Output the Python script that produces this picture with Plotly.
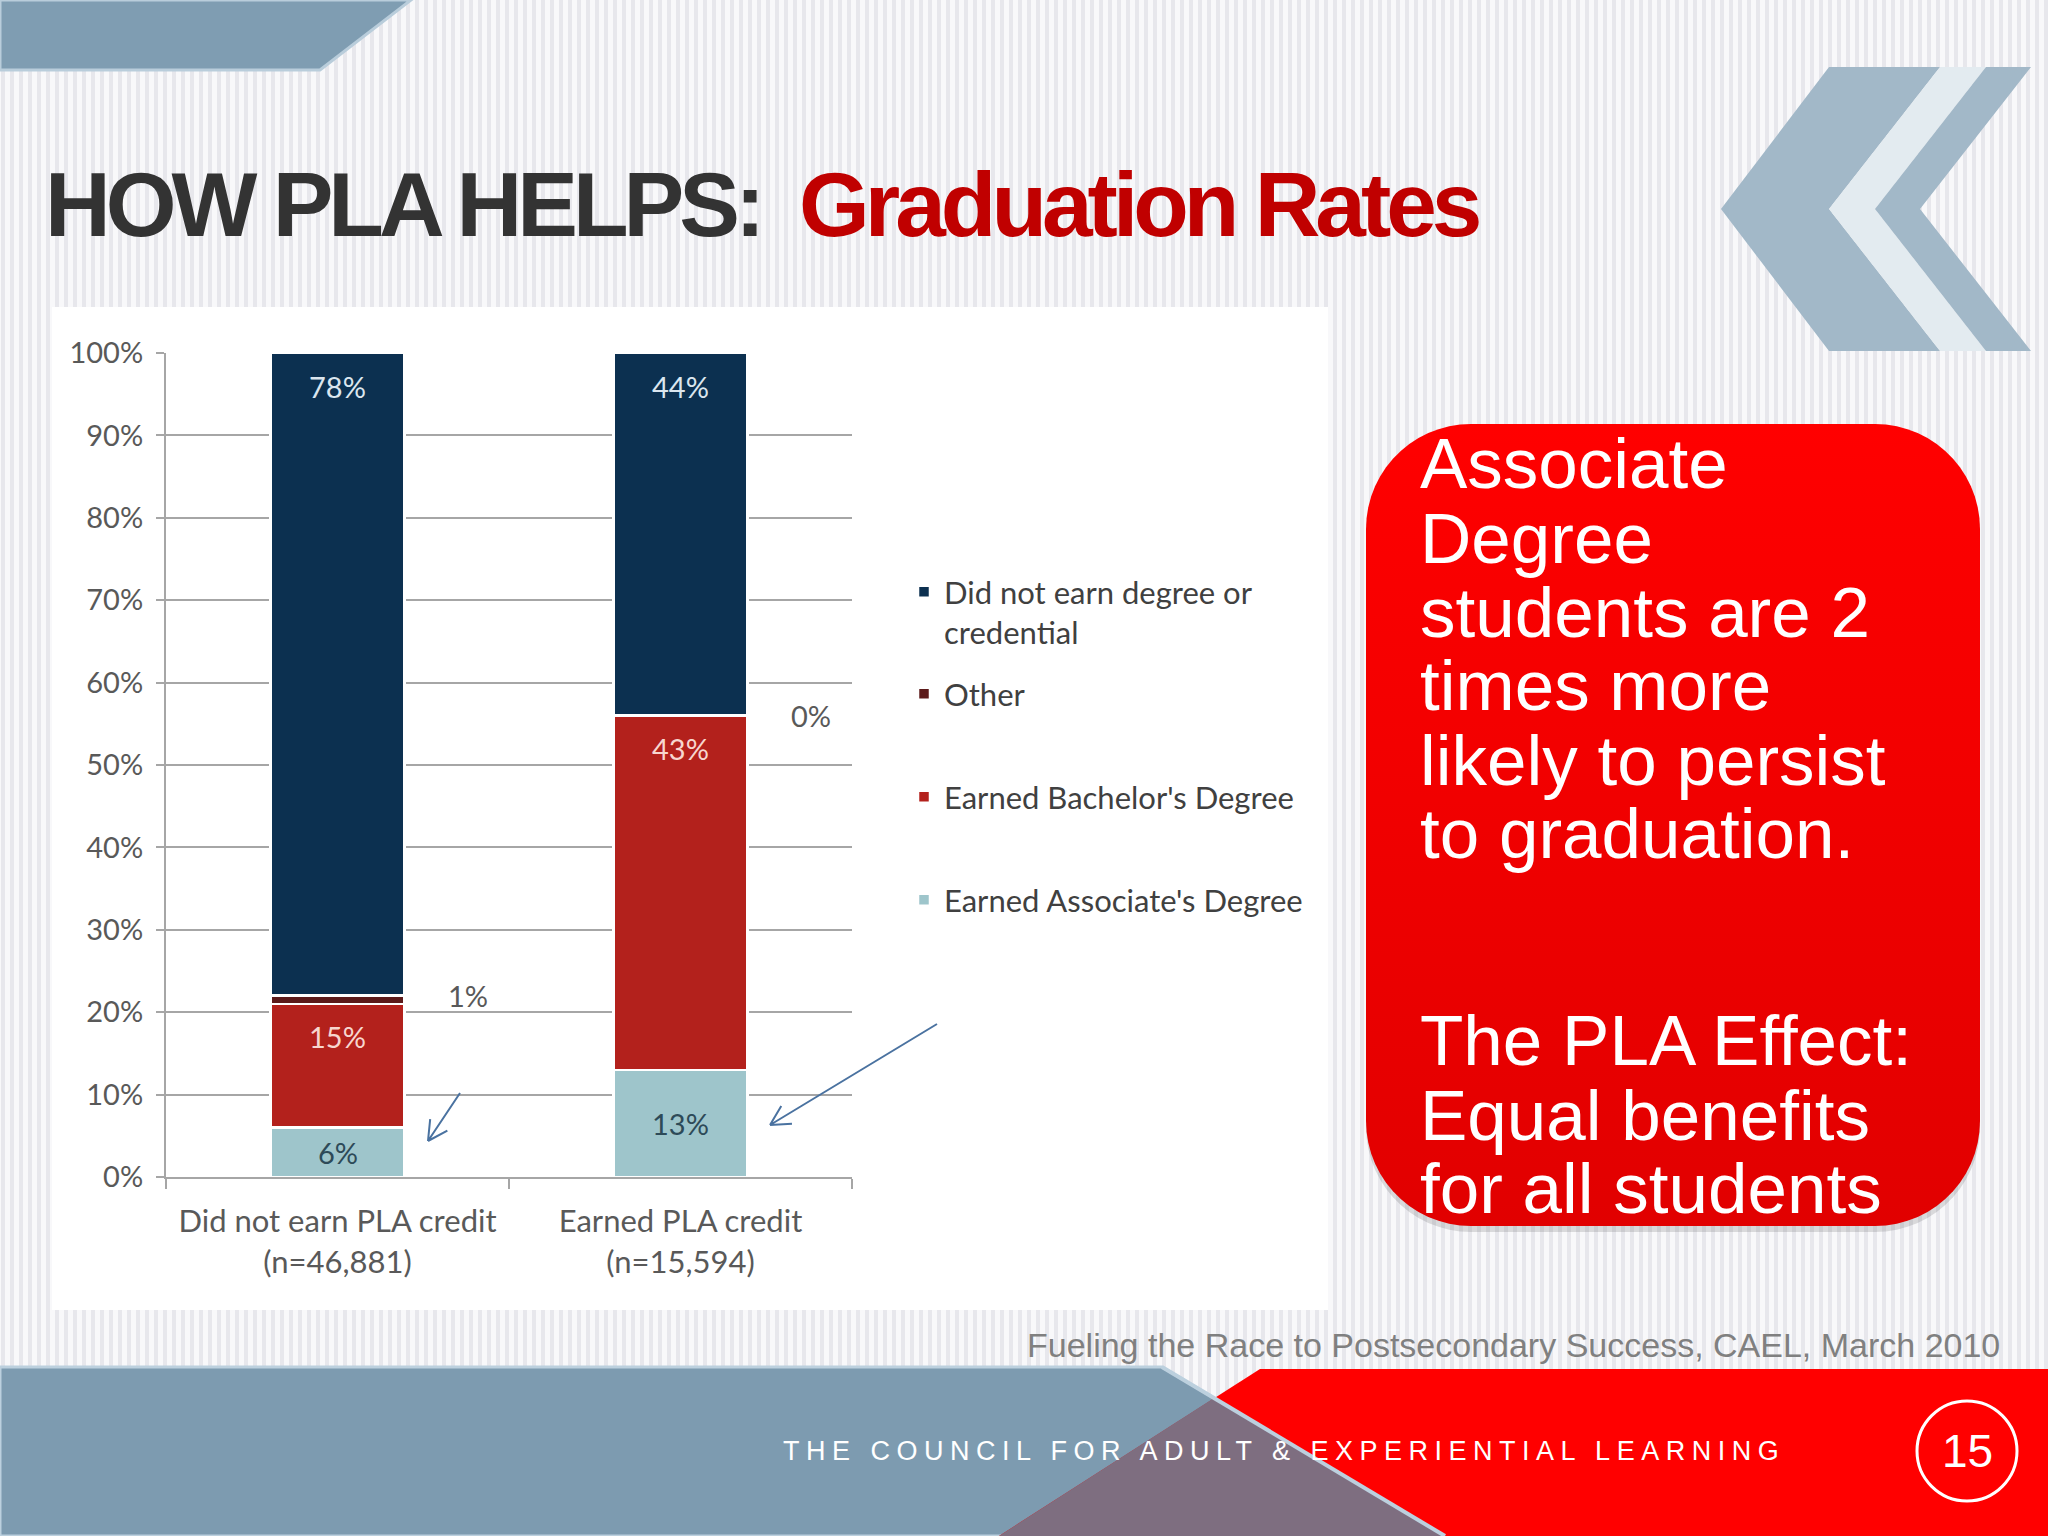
import numpy as np
import plotly.graph_objects as go

W, H = 2048, 1536

# ---------------- data ----------------
categories = ["Did not earn PLA credit<br>(n=46,881)", "Earned PLA credit<br>(n=15,594)"]
associate = [6, 13]
bachelor = [15, 43]
other = [1, 0]
not_earned = [78, 44]
series_names = ["Earned Associate's Degree", "Earned Bachelor's Degree", "Other",
                "Did not earn degree or<br>credential"]
y_tick_values = [0, 10, 20, 30, 40, 50, 60, 70, 80, 90, 100]
y_tick_labels = [f"{v}%" for v in y_tick_values]

title_left = "HOW PLA HELPS:"
title_right = "Graduation Rates"
callout_lines = ["Associate", "Degree", "students are 2", "times more", "likely to persist",
                 "to graduation.", "The PLA Effect:", "Equal benefits", "for all students"]
source_text = "Fueling the Race to Postsecondary Success, CAEL, March 2010"
footer_text = "THE COUNCIL FOR ADULT &amp; EXPERIENTIAL LEARNING"
page_number = "15"

# ---------------- style / layout ----------------
CHART_FONT = "Lato, 'Open Sans', sans-serif"
ARIAL = "'Liberation Sans', Arial, sans-serif"
series_colors = ["#9ec5cb", "#b3211c", "#5c1a1a", "#0c3050"]
label_colors = ["#2d4a58", "#f7d6cf", "#595959", "#dbe6ef"]
legend_ids = ["legend4", "legend3", "legend2", "legend"]
legend_tops = {"legend": 565, "legend2": 667, "legend3": 770, "legend4": 873}
callout_baselines = [487, 562, 636, 709, 784, 857, 1064, 1139, 1212]


def px(x):
    return x / W


def py(y):
    return 1 - y / H


def poly_path(pts):
    return "M " + " L ".join(f"{px(x):.5f},{py(y):.5f}" for x, y in pts) + " Z"


def arrow_path(tail, head, wing=22, ang=28):
    tx, ty = tail
    hx, hy = head
    d = np.array([hx - tx, hy - ty], float)
    d /= np.linalg.norm(d)
    parts = [f"M {px(tx):.5f},{py(ty):.5f} L {px(hx):.5f},{py(hy):.5f}"]
    for s in (1, -1):
        a = np.radians(ang * s)
        rx = d[0] * np.cos(a) - d[1] * np.sin(a)
        ry = d[0] * np.sin(a) + d[1] * np.cos(a)
        wx, wy = hx - wing * rx, hy - wing * ry
        parts.append(f"M {px(hx):.5f},{py(hy):.5f} L {px(wx):.5f},{py(wy):.5f}")
    return " ".join(parts)


def rounded_rect(x0, y0, x1, y1, r, n=16):
    xs, ys = [], []
    corners = [(x1 - r, y0 + r, -90, 0), (x1 - r, y1 - r, 0, 90),
               (x0 + r, y1 - r, 90, 180), (x0 + r, y0 + r, 180, 270)]
    for cx, cy, a0, a1 in corners:
        for t in np.linspace(np.radians(a0), np.radians(a1), n):
            xs.append(cx + r * np.cos(t))
            ys.append(cy + r * np.sin(t))
    xs.append(xs[0])
    ys.append(ys[0])
    return xs, ys


fig = go.Figure()

series_values = [associate, bachelor, other, not_earned]
for i, (name, vals) in enumerate(zip(series_names, series_values)):
    fig.add_trace(go.Bar(
        x=categories, y=vals, name=name, legend=legend_ids[i],
        width=0.39,
        marker=dict(color=series_colors[i], line=dict(color="white", width=2.5)),
        textposition="none",
        hoverinfo="skip",
    ))

# data labels
annotations = []
label_font = lambda c: dict(family=CHART_FONT, size=29, color=c)
cum = [0, 0]
for i, vals in enumerate(series_values):
    for j, v in enumerate(vals):
        bottom = cum[j]
        top = bottom + v
        cum[j] = top
        if i == 0:      # associate: centred in segment
            annotations.append(dict(x=j, y=(bottom + top) / 2, xref="x", yref="y",
                                    text=f"{v}%", showarrow=False, yanchor="middle",
                                    font=label_font(label_colors[i])))
        elif i == 2:    # other: outside, right of the bar
            annotations.append(dict(x=j + 0.38, y=top, xref="x", yref="y",
                                    text=f"{v}%", showarrow=False, yanchor="middle",
                                    font=label_font(label_colors[i])))
        else:           # near the top of the segment
            annotations.append(dict(x=j, y=top, xref="x", yref="y", yshift=-33,
                                    text=f"{v}%", showarrow=False, yanchor="middle",
                                    font=label_font(label_colors[i])))

# Callout box (gradient red) on a full-figure pixel axis
bx, by = rounded_rect(1366, 430, 1980, 1232, 105)
fig.add_trace(go.Scatter(x=bx, y=by, xaxis="x2", yaxis="y2", mode="lines",
                         line=dict(width=0), fill="toself",
                         fillcolor="rgba(0,0,0,0.12)", showlegend=False, hoverinfo="skip"))
bx, by = rounded_rect(1366, 424, 1980, 1226, 105)
fig.add_trace(go.Scatter(x=bx, y=by, xaxis="x2", yaxis="y2", mode="lines",
                         line=dict(width=0), fill="toself",
                         fillgradient=dict(type="vertical", start=424, stop=1226,
                                           colorscale=[[0, "#ff0000"], [1, "#e10000"]]),
                         showlegend=False, hoverinfo="skip"))

for line, base in zip(callout_lines, callout_baselines):
    annotations.append(dict(x=px(1418), y=py(base - 24), xref="paper", yref="paper",
                            text=line, showarrow=False, xanchor="left", yanchor="middle",
                            font=dict(family=ARIAL, size=71, color="white")))

# Titles
annotations.append(dict(x=px(43), y=py(205), xref="paper", yref="paper",
                        text=f'<span style="letter-spacing:-5px"><b>{title_left}</b></span>',
                        showarrow=False, xanchor="left", yanchor="middle",
                        font=dict(family=ARIAL, size=91, color="#333333")))
annotations.append(dict(x=px(797), y=py(205), xref="paper", yref="paper",
                        text=f'<span style="letter-spacing:-5px"><b>{title_right}</b></span>',
                        showarrow=False, xanchor="left", yanchor="middle",
                        font=dict(family=ARIAL, size=91, color="#c00000")))
# Source
annotations.append(dict(x=px(2002), y=py(1345), xref="paper", yref="paper",
                        text=source_text, showarrow=False, xanchor="right", yanchor="middle",
                        font=dict(family=ARIAL, size=34, color="#808080")))
# Footer
annotations.append(dict(x=px(781), y=py(1451), xref="paper", yref="paper",
                        text=f'<span style="letter-spacing:6.5px">{footer_text}</span>',
                        showarrow=False, xanchor="left", yanchor="middle",
                        font=dict(family=ARIAL, size=27, color="white")))
annotations.append(dict(x=px(1967), y=py(1451), xref="paper", yref="paper",
                        text=page_number, showarrow=False, xanchor="center", yanchor="middle",
                        font=dict(family=ARIAL, size=46, color="white")))

# background pinstripes (one path)
stripe_path = " ".join(f"M {px(x):.5f},0 L {px(x):.5f},1" for x in range(3, W, 9))

shapes = [
    dict(type="path", xref="paper", yref="paper", path=stripe_path,
         line=dict(color="#e7e7ec", width=4), layer="below"),
    # white chart panel
    dict(type="rect", xref="paper", yref="paper", x0=px(52), x1=px(1328), y0=py(1310), y1=py(307),
         fillcolor="white", line=dict(width=0), layer="below"),
    # top-left banner
    dict(type="path", xref="paper", yref="paper",
         path=poly_path([(0, 0), (411, 0), (320, 70), (0, 70)]),
         fillcolor="#7f9db2", line=dict(color="#b9cddb", width=3), layer="below"),
    # chevrons
    dict(type="path", xref="paper", yref="paper",
         path=poly_path([(1829, 67), (1940, 67), (1829, 209), (1940, 351), (1829, 351), (1721, 209)]),
         fillcolor="#a2b8c8", line=dict(width=0), layer="below"),
    dict(type="path", xref="paper", yref="paper",
         path=poly_path([(1940, 67), (1986, 67), (1875, 209), (1986, 351), (1940, 351), (1829, 209)]),
         fillcolor="#e3ebf0", line=dict(width=0), layer="below"),
    dict(type="path", xref="paper", yref="paper",
         path=poly_path([(1986, 67), (2031, 67), (1920, 209), (2031, 351), (1986, 351), (1875, 209)]),
         fillcolor="#a2b8c8", line=dict(width=0), layer="below"),
    # footer blue band
    dict(type="path", xref="paper", yref="paper",
         path=poly_path([(0, 1367), (1162, 1367), (1445, 1536), (0, 1536)]),
         fillcolor="#7d9bb0", line=dict(color="#bcd0de", width=3), layer="below"),
    # footer red band
    dict(type="path", xref="paper", yref="paper",
         path=poly_path([(1260, 1369), (2048, 1369), (2048, 1536), (999, 1536)]),
         fillcolor="#ff0000", line=dict(width=0), layer="below"),
    # overlap
    dict(type="path", xref="paper", yref="paper",
         path=poly_path([(1214, 1398), (1445, 1536), (999, 1536)]),
         fillcolor="#7e6e80", line=dict(width=0), layer="below"),
    dict(type="line", xref="paper", yref="paper", x0=px(1162), y0=py(1367), x1=px(1445), y1=py(1536),
         line=dict(color="#bcd0de", width=4), layer="below"),
    # page number circle
    dict(type="circle", xref="paper", yref="paper", x0=px(1917), x1=px(2017), y0=py(1501), y1=py(1401),
         line=dict(color="white", width=3)),
    # arrows
    dict(type="path", xref="paper", yref="paper", path=arrow_path((460, 1093), (428, 1141)),
         line=dict(color="#4a72a0", width=2)),
    dict(type="path", xref="paper", yref="paper", path=arrow_path((937, 1024), (770, 1125)),
         line=dict(color="#4a72a0", width=2)),
]

legend_common = dict(xanchor="left", yanchor="top", bgcolor="rgba(0,0,0,0)",
                     font=dict(family=CHART_FONT, size=31, color="#404040"), valign="top")
legends = {lid: dict(x=px(904), y=py(top), **legend_common) for lid, top in legend_tops.items()}

fig.update_layout(
    width=W, height=H,
    margin=dict(l=0, r=0, t=0, b=0, autoexpand=False),
    paper_bgcolor="#f8f8fa",
    plot_bgcolor="rgba(0,0,0,0)",
    barmode="stack",
    showlegend=True,
    xaxis=dict(domain=[px(166), px(852)], type="category", range=[-0.5, 1.5],
               showline=True, linecolor="#a6a6a6", linewidth=2, automargin=False,
               ticks="outside", tickson="boundaries", ticklen=10, tickcolor="#a6a6a6", tickwidth=2,
               ticklabelstandoff=16,
               tickfont=dict(family=CHART_FONT, size=31, color="#595959"),
               showgrid=False, fixedrange=True),
    yaxis=dict(domain=[py(1177), py(353)], range=[0, 100], automargin=False,
               tickvals=y_tick_values, ticktext=y_tick_labels,
               showline=True, linecolor="#a6a6a6", linewidth=2,
               ticks="outside", ticklen=8, tickcolor="#a6a6a6", tickwidth=2,
               ticklabelstandoff=7,
               showgrid=True, gridcolor="#a6a6a6", gridwidth=2, zeroline=False,
               tickfont=dict(family=CHART_FONT, size=29, color="#595959"), fixedrange=True),
    xaxis2=dict(domain=[0, 1], range=[0, W], visible=False, anchor="y2", fixedrange=True,
                automargin=False),
    yaxis2=dict(domain=[0, 1], range=[H, 0], visible=False, anchor="x2", fixedrange=True,
                automargin=False),
    shapes=shapes,
    annotations=annotations,
    **legends,
)

fig.write_html("out.html", config={"displayModeBar": False},
               post_script="document.body.style.margin='0';")
